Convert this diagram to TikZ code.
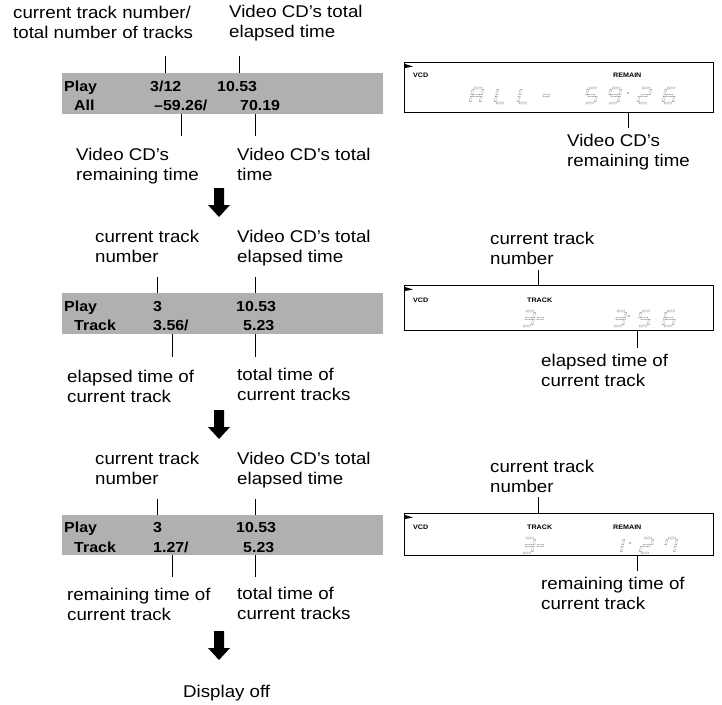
\documentclass[tikz,border=0pt]{standalone}
\usepackage{fontspec}
\setmainfont{Liberation Sans}[FakeStretch=1.1]
\definecolor{boxgray}{RGB}{176,176,176}
\definecolor{seggray}{RGB}{120,120,120}
\newcommand\twol[2]{\vtop{\hbox{#1}\hbox{#2}}}
\newcommand\sdig[3]{\begin{scope}[shift={(#1,#2)},xslant=0.2]\foreach \s in {#3}{\ifcase\s\or
 \draw[seg] (1.6,-0.9) rectangle (8.4,0.9);\or
 \draw[seg] (9.1,1.4) rectangle (10.9,6.6);\or
 \draw[seg] (9.1,8.4) rectangle (10.9,13.6);\or
 \draw[seg] (1.6,14.1) rectangle (8.4,15.9);\or
 \draw[seg] (-0.9,8.4) rectangle (0.9,13.6);\or
 \draw[seg] (-0.9,1.4) rectangle (0.9,6.6);\or
 \draw[seg] (1.6,6.6) rectangle (8.4,8.4);\fi}\end{scope}}
\begin{document}
\begin{tikzpicture}[x=1pt,y=-1pt,
  lbl/.style={anchor=base west, inner sep=0pt, font=\fontsize{17}{20}\selectfont},
  btxt/.style={anchor=base west, inner sep=0pt, font=\fontsize{14.5}{19}\selectfont\bfseries},
  gbox/.style={fill=boxgray, draw=none, anchor=north west, inner sep=0pt, minimum width=321pt},
  lcd/.style={draw=black, line width=1.1pt, anchor=north west, inner sep=0pt, minimum width=309pt},
  tiny/.style={anchor=base west, inner sep=0pt, font=\fontsize{6.5}{7}\selectfont\bfseries},
  conn/.style={line width=0.9pt},
  seg/.style={draw=seggray, line width=0.35pt, dash pattern=on 0.7pt off 0.5pt},
  darr/.pic={\fill[black] (-5,0) -- (5,0) -- (5,17) -- (11,17) -- (0,29) -- (-11,17) -- (-5,17) -- cycle;},
  playmark/.pic={\fill[black] (0,0) -- (8,2.5) -- (0,4) -- cycle;}
]
\useasboundingbox (0,0) rectangle (722,704);

% ---------- Section 1 (left) ----------
\node[lbl] (t1a) at (13,18) {\twol{current track number/}{total number of tracks}};
\node[lbl] (t1b) at (229,17) {\twol{Video CD’s total}{elapsed time}};
\node[gbox, minimum height=41pt] (b1) at (62,73) {};
\node[btxt] (b1p) at (64,91) {Play};
\node[btxt] (b1n) at (150,91) {3/12};
\node[btxt] (b1e) at (217,91) {10.53};
\node[btxt] (b1a) at (74,110) {All};
\node[btxt] (b1r) at (154,110) {–59.26/};
\node[btxt] (b1t) at (240,110) {70.19};
\coordinate (u1a) at (165,56);
\coordinate (u1b) at (239,56);
\draw[conn] (u1a) -- (u1a |- b1.north);
\draw[conn] (u1b) -- (u1b |- b1.north);
\coordinate (d1a) at (181,136);
\coordinate (d1b) at (255,136);
\draw[conn] (b1.south -| d1a) -- (d1a);
\draw[conn] (b1.south -| d1b) -- (d1b);
\node[lbl] (t1c) at (76,160) {\twol{Video CD’s}{remaining time}};
\node[lbl] (t1d) at (237,160) {\twol{Video CD’s total}{time}};
\pic at (219,188) {darr};

% ---------- Section 2 (left) ----------
\node[lbl] (t2a) at (95,242) {\twol{current track}{number}};
\node[lbl] (t2b) at (237,242) {\twol{Video CD’s total}{elapsed time}};
\node[gbox, minimum height=41pt] (b2) at (62,293) {};
\node[btxt] (b2p) at (64,311) {Play};
\node[btxt] (b2n) at (153,311) {3};
\node[btxt] (b2e) at (236,311) {10.53};
\node[btxt] (b2a) at (74,330) {Track};
\node[btxt] (b2r) at (153,330) {3.56/};
\node[btxt] (b2t) at (243,330) {5.23};
\coordinate (u2a) at (157,277);
\coordinate (u2b) at (255,277);
\draw[conn] (u2a) -- (u2a |- b2.north);
\draw[conn] (u2b) -- (u2b |- b2.north);
\coordinate (d2a) at (172,357);
\coordinate (d2b) at (255,357);
\draw[conn] (b2.south -| d2a) -- (d2a);
\draw[conn] (b2.south -| d2b) -- (d2b);
\node[lbl] (t2c) at (67,382) {\twol{elapsed time of}{current track}};
\node[lbl] (t2d) at (237,380) {\twol{total time of}{current tracks}};
\pic at (219,410) {darr};

% ---------- Section 3 (left) ----------
\node[lbl] (t3a) at (95,464) {\twol{current track}{number}};
\node[lbl] (t3b) at (237,464) {\twol{Video CD’s total}{elapsed time}};
\node[gbox, minimum height=40pt] (b3) at (62,515) {};
\node[btxt] (b3p) at (64,532) {Play};
\node[btxt] (b3n) at (153,532) {3};
\node[btxt] (b3e) at (236,532) {10.53};
\node[btxt] (b3a) at (74,552) {Track};
\node[btxt] (b3r) at (153,552) {1.27/};
\node[btxt] (b3t) at (243,552) {5.23};
\coordinate (u3a) at (157,499);
\coordinate (u3b) at (255,499);
\draw[conn] (u3a) -- (u3a |- b3.north);
\draw[conn] (u3b) -- (u3b |- b3.north);
\coordinate (d3a) at (172,577);
\coordinate (d3b) at (255,577);
\draw[conn] (b3.south -| d3a) -- (d3a);
\draw[conn] (b3.south -| d3b) -- (d3b);
\node[lbl] (t3c) at (67,600) {\twol{remaining time of}{current track}};
\node[lbl] (t3d) at (237,599) {\twol{total time of}{current tracks}};
\pic at (219,631) {darr};
\node[lbl] (off) at (183,697) {Display off};

% ---------- LCD 1 ----------
\node[lcd, minimum height=50pt] (l1) at (404,62) {};
\pic at (405,64) {playmark};
\node[tiny] (l1v) at (413,77) {VCD};
\node[tiny] (l1r) at (613,77) {REMAIN};
\sdig{473}{88}{1,2,3,5,6,7}
\sdig{498}{88}{4,5,6}
\sdig{521}{88}{4,5,6}
\sdig{543}{88}{7}
\sdig{588}{88}{1,6,7,3,4}
\sdig{611}{88}{1,2,3,4,6,7}
\fill[seggray] (628,93) circle (0.9);
\sdig{641}{88}{1,2,7,5,4}
\sdig{666}{88}{1,6,5,4,3,7}
\coordinate (r1d) at (628,128);
\draw[conn] (l1.south -| r1d) -- (r1d);
\node[lbl] (r1t) at (567,146) {\twol{Video CD’s}{remaining time}};

% ---------- LCD 2 ----------
\node[lbl] (r2a) at (490,244) {\twol{current track}{number}};
\node[lcd, minimum height=45pt] (l2) at (404,285) {};
\pic at (405,287) {playmark};
\node[tiny] (l2v) at (413,302) {VCD};
\node[tiny] (l2k) at (527,302) {TRACK};
\sdig{525}{311}{1,2,7,3,4}
\sdig{537}{311}{7}
\sdig{616}{311}{1,2,7,3,4}
\fill[seggray] (629,316) circle (0.9);
\sdig{641}{311}{1,6,7,3,4}
\sdig{666}{311}{1,6,5,4,3,7}
\coordinate (r2u) at (538,270);
\draw[conn] (r2u) -- (r2u |- l2.north);
\coordinate (r2d) at (637,348);
\draw[conn] (l2.south -| r2d) -- (r2d);
\node[lbl] (r2t) at (541,366) {\twol{elapsed time of}{current track}};

% ---------- LCD 3 ----------
\node[lbl] (r3a) at (490,472) {\twol{current track}{number}};
\node[lcd, minimum height=42pt] (l3) at (404,513) {};
\pic at (405,515) {playmark};
\node[tiny] (l3v) at (413,529) {VCD};
\node[tiny] (l3k) at (527,529) {TRACK};
\node[tiny] (l3r) at (613,529) {REMAIN};
\sdig{525}{538}{1,2,7,3,4}
\sdig{537}{538}{7}
\sdig{614}{538}{2,3}
\fill[seggray] (630,543) circle (0.9);
\sdig{643}{538}{1,2,7,5,4}
\sdig{667}{538}{1,2,3,6}
\coordinate (r3u) at (538,497);
\draw[conn] (r3u) -- (r3u |- l3.north);
\coordinate (r3d) at (637,571);
\draw[conn] (l3.south -| r3d) -- (r3d);
\node[lbl] (r3t) at (541,589) {\twol{remaining time of}{current track}};
\end{tikzpicture}
\end{document}
